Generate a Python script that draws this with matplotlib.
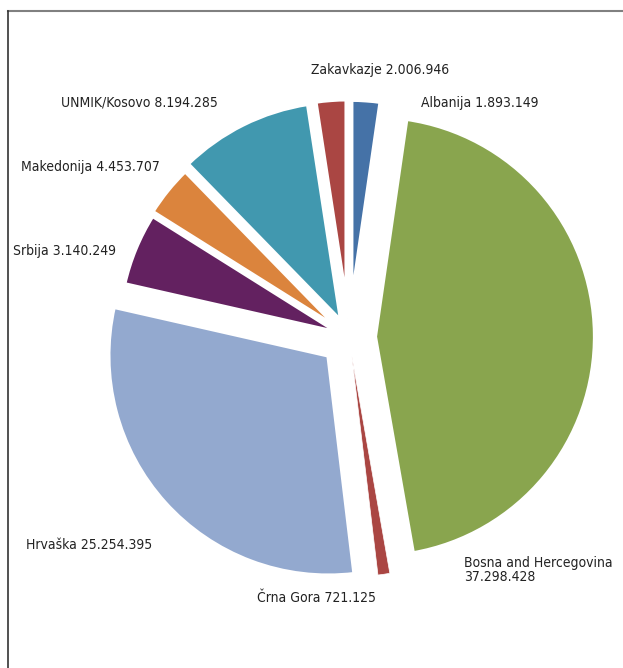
import matplotlib
matplotlib.use("Agg")
import matplotlib.pyplot as plt
from matplotlib.lines import Line2D

# slices in drawing order, clockwise from the top
# (slice sizes follow the picture: the purple wedge is the 4.45 M one)
names = ["Albanija", "Bosna and Hercegovina", "Črna Gora", "Hrvaška",
         "Makedonija", "Srbija", "UNMIK/Kosovo", "Zakavkazje"]
values = [1893149, 37298428, 721125, 25254395, 4453707, 3140249, 8194285, 2006946]
value_labels = ["1.893.149", "37.298.428", "721.125", "25.254.395",
                "4.453.707", "3.140.249", "8.194.285", "2.006.946"]
colors = ["#4572A7", "#89A54E", "#AA4643", "#93A9CF",
          "#632160", "#DB843D", "#4198AF", "#AA4643"]
explode = [0.083, 0.118, 0.09, 0.126, 0.05, 0.06, 0.079, 0.085]

W, H = 623, 668
cx, cy, R = 349, 337, 220   # pie centre and radius in pixels

plt.rcParams['font.family'] = ['DejaVu Sans']

fig = plt.figure(figsize=(W / 100, H / 100), dpi=100)
ax = fig.add_axes([0, 0, 1, 1])
wedges, _ = ax.pie(values, colors=colors, explode=explode, startangle=90,
                   counterclock=False,
                   wedgeprops=dict(edgecolor="white", linewidth=3))
wedges[0].set_linewidth(4.5)
wedges[7].set_linewidth(4.5)
wedges[2].set_linewidth(0.5)
ax.set_aspect('auto')
ax.set_xlim(-cx / R, (W - cx) / R)
ax.set_ylim(-(H - cy) / R, cy / R)
ax.axis('off')

# frame lines (top and left)
fig.add_artist(Line2D([8 / W, 1], [1 - 11 / H, 1 - 11 / H], color="#808080", lw=1.5))
fig.add_artist(Line2D([8 / W, 8 / W], [0, 1 - 11 / H], color="#333333", lw=1.2))

# label positions (pixels, left edge / vertical centre)
label_pos = {
    "Zakavkazje": (311, 70),
    "UNMIK/Kosovo": (61, 103),
    "Albanija": (421, 103),
    "Makedonija": (21, 167),
    "Srbija": (13, 251),
    "Hrvaška": (26, 545),
    "Bosna and Hercegovina": (464, 570),
    "Črna Gora": (257, 598),
}
for name, lab in zip(names, value_labels):
    x, y = label_pos[name]
    if name == "Bosna and Hercegovina":
        txt = name + "\n" + lab
    else:
        txt = name + " " + lab
    fig.text(x / W, 1 - y / H, txt, fontsize=10, fontstretch='condensed',
             color="#222222", ha="left", va="center", linespacing=1.05)

plt.savefig("out.png", dpi=100)
